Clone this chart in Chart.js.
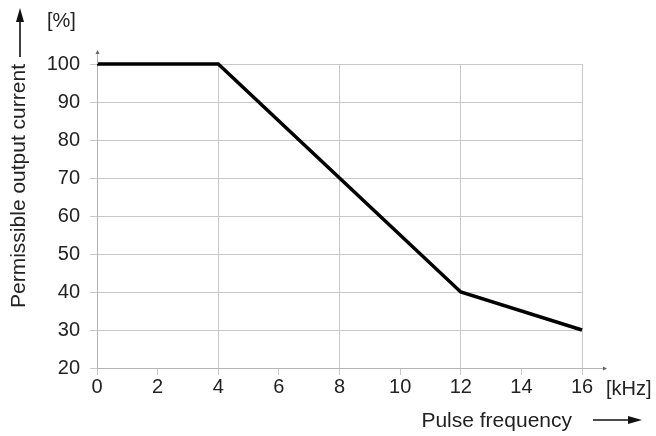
<!DOCTYPE html>
<html>
<head>
<meta charset="utf-8">
<script src="https://cdn.jsdelivr.net/npm/chart.js@4.4.0/dist/chart.umd.min.js"></script>
<style>
  html, body { margin: 0; padding: 0; background: #fff; }
</style>
</head>
<body>
<canvas id="grafico" width="656" height="436"></canvas>
<script>
// === Dados ===
const frequencias = [0, 4, 12, 16];          // kHz
const correntes = [100, 100, 40, 30];        // %
const xTicks = [0, 2, 4, 6, 8, 10, 12, 14, 16];
const yTicks = [20, 30, 40, 50, 60, 70, 80, 90, 100];

const FONTE = "'Liberation Sans', Arial, sans-serif";
const COR_TEXTO = "#222";
const COR_GRADE = "#c8c8c8";
const COR_EIXO = "#b4b4b4";

// === Funções auxiliares ===
function seta(ctx, x1, y1, x2, y2, tam, larg) {
  // linha de (x1,y1) até a ponta (x2,y2) com cabeça triangular
  const ang = Math.atan2(y2 - y1, x2 - x1);
  const bx = x2 - Math.cos(ang) * tam;
  const by = y2 - Math.sin(ang) * tam;
  ctx.beginPath();
  ctx.moveTo(x1, y1);
  ctx.lineTo(bx, by);
  ctx.stroke();
  ctx.beginPath();
  ctx.moveTo(x2, y2);
  ctx.lineTo(bx + Math.sin(ang) * larg, by - Math.cos(ang) * larg);
  ctx.lineTo(bx - Math.sin(ang) * larg, by + Math.cos(ang) * larg);
  ctx.closePath();
  ctx.fill();
}

// Plugin com setas dos eixos e textos extras
const extras = {
  id: "extras",
  afterDraw(chart) {
    const ctx = chart.ctx;
    const xs = chart.scales.x;
    const ys = chart.scales.y;
    const x0 = Math.round(xs.getPixelForValue(0)) + 0.5;
    const xFim = xs.getPixelForValue(16);
    const y0 = Math.round(ys.getPixelForValue(20)) + 0.5;
    const yTopo = ys.getPixelForValue(100);

    ctx.save();
    // prolongamento dos eixos com pequenas setas
    ctx.strokeStyle = COR_EIXO;
    ctx.fillStyle = "#666";
    ctx.lineWidth = 1;
    seta(ctx, x0, yTopo, x0, yTopo - 14, 4, 2);
    seta(ctx, xFim, y0, xFim + 25, y0, 4, 2);

    // unidades
    ctx.fillStyle = COR_TEXTO;
    ctx.font = "20px " + FONTE;
    ctx.textBaseline = "alphabetic";
    ctx.textAlign = "left";
    ctx.fillText("[%]", 47, 27);
    ctx.fillText("[kHz]", 606, 395);

    // título do eixo X
    ctx.font = "21px " + FONTE;
    ctx.textAlign = "right";
    ctx.fillText("Pulse frequency", 572, 427);

    // título do eixo Y (rotacionado)
    ctx.save();
    ctx.translate(19, 186);
    ctx.rotate(-Math.PI / 2);
    ctx.textAlign = "center";
    ctx.textBaseline = "middle";
    ctx.fillText("Permissible output current", 0, 0);
    ctx.restore();

    // setas dos títulos
    ctx.strokeStyle = "#111";
    ctx.fillStyle = "#111";
    ctx.lineWidth = 1.6;
    seta(ctx, 20, 57, 20, 8, 14, 4);
    seta(ctx, 593, 420, 642, 420, 14, 4);
    ctx.restore();
  }
};

// === Gráfico ===
const ctxGrafico = document.getElementById("grafico").getContext("2d");
new Chart(ctxGrafico, {
  type: "line",
  data: {
    datasets: [{
      data: frequencias.map((f, i) => ({ x: f, y: correntes[i] })),
      borderColor: "#000",
      borderWidth: 3.5,
      borderJoinStyle: "miter",
      pointRadius: 0,
      tension: 0,
      fill: false,
      clip: false
    }]
  },
  options: {
    responsive: false,
    animation: false,
    devicePixelRatio: 1,
    layout: { padding: { left: 0, top: 64, right: 74, bottom: 0 } },
    plugins: {
      legend: { display: false },
      tooltip: { enabled: false }
    },
    scales: {
      x: {
        type: "linear",
        min: 0,
        max: 16,
        afterFit: (scale) => { scale.height = 68; },
        afterBuildTicks: (scale) => { scale.ticks = xTicks.map(v => ({ value: v })); },
        ticks: {
          color: COR_TEXTO,
          font: { family: FONTE, size: 20 },
          padding: 0,
          maxRotation: 0
        },
        grid: {
          color: (c) => (c.tick && c.tick.value % 4 === 0 ? COR_GRADE : "rgba(0,0,0,0)"),
          tickColor: COR_GRADE,
          tickLength: 7,
          lineWidth: 1
        },
        border: { display: true, color: COR_EIXO }
      },
      y: {
        type: "linear",
        min: 20,
        max: 100,
        afterFit: (scale) => { scale.width = 97; },
        afterBuildTicks: (scale) => { scale.ticks = yTicks.map(v => ({ value: v })); },
        ticks: {
          color: COR_TEXTO,
          font: { family: FONTE, size: 20 },
          padding: 10
        },
        grid: {
          color: COR_GRADE,
          tickColor: COR_GRADE,
          tickLength: 7,
          lineWidth: 1
        },
        border: { display: true, color: COR_EIXO }
      }
    }
  },
  plugins: [extras]
});
</script>
</body>
</html>
